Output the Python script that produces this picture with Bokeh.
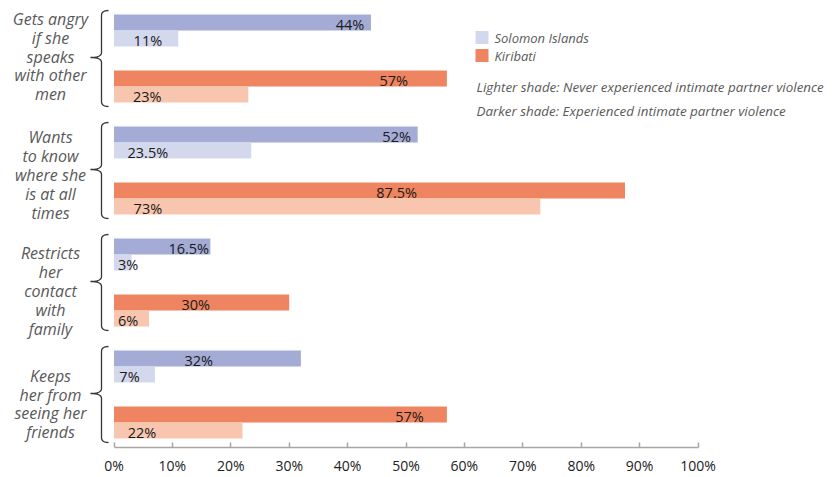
from bokeh.plotting import figure
from bokeh.models import Range1d, FixedTicker
from bokeh.core.properties import value
from bokeh.embed import file_html
from bokeh.resources import INLINE

# ---------------- data ----------------
categories = [
    ["Gets angry", "if she", "speaks", "with other", "men"],
    ["Wants", "to know", "where she", "is at all", "times"],
    ["Restricts", "her", "contact", "with", "family"],
    ["Keeps", "her from", "seeing her", "friends"],
]
solomon_experienced = [44, 52, 16.5, 32]
solomon_never = [11, 23.5, 3, 7]
kiribati_experienced = [57, 87.5, 30, 57]
kiribati_never = [23, 73, 6, 22]
tick_values = [0, 10, 20, 30, 40, 50, 60, 70, 80, 90, 100]
tick_labels = ["0%", "10%", "20%", "30%", "40%", "50%", "60%", "70%", "80%", "90%", "100%"]
legend_names = ["Solomon Islands", "Kiribati"]
notes = ["Lighter shade: Never experienced intimate partner violence",
         "Darker shade: Experienced intimate partner violence"]

# ---------------- layout / style ----------------
PX0, PXU = 113.5, 5.84          # pixel of 0 %, pixels per 1 %
def xd(px):
    return (px - PX0) / PXU

C_SOL_D, C_SOL_L = "#A4ABD5", "#D4D8EC"
C_KIR_D, C_KIR_L = "#EE8460", "#F8C6AE"
FONT = "Open Sans"
GREY = "#595959"

GROUP_TOP, GROUP_STEP, BAR_H = 14, 112, 16
series = [
    (solomon_experienced, C_SOL_D, 8, [40.4, 48.4, 12.8, 14.5]),
    (solomon_never, C_SOL_L, 24, [5.8, 5.8, 2.4, 2.65]),
    (kiribati_experienced, C_KIR_D, 64, [47.9, 48.4, 14.0, 50.6]),
    (kiribati_never, C_KIR_L, 80, [5.7, 5.8, 2.4, 4.8]),
]
label_center_offsets = [42, 48.5, 52.5, 53.5]

p = figure(width=839, height=477, output_backend="svg", toolbar_location=None,
           x_range=Range1d(xd(0), xd(839)), y_range=Range1d(447, 0),
           min_border_left=0, min_border_right=0, min_border_top=0,
           min_border_bottom=30)
p.outline_line_color = None
p.background_fill_color = "white"
p.border_fill_color = "white"
p.xgrid.visible = False
p.ygrid.visible = False
p.yaxis.visible = False

ax = p.xaxis[0]
ax.bounds = (0, 100)
ax.ticker = FixedTicker(ticks=tick_values)
ax.major_label_overrides = {t: l for t, l in zip(tick_values, tick_labels)}
ax.axis_line_color = "#A6A6A6"
ax.axis_line_width = 1.5
ax.major_tick_line_color = "#A6A6A6"
ax.major_tick_line_width = 1.5
ax.major_tick_in = 5
ax.major_tick_out = 0
ax.minor_tick_line_color = None
ax.major_label_standoff = 8
ax.major_label_text_font = FONT
ax.major_label_text_font_size = "14px"
ax.major_label_text_color = "#222222"

# bars and value labels
for vals, col, off, lpos in series:
    ys = [GROUP_TOP + GROUP_STEP * g + off for g in range(len(vals))]
    p.hbar(y=ys, left=0, right=vals, height=BAR_H, fill_color=col, line_color=None)
    p.text(x=lpos, y=[y + 1.5 for y in ys], text=[f"{v:g}%" for v in vals],
           text_align="center", text_baseline="middle",
           text_font=value(FONT), text_font_size="14.5px", text_color="#1a1a1a")

# category labels
LINE_H = 18.8
for g, lines in enumerate(categories):
    c = GROUP_TOP + GROUP_STEP * g + label_center_offsets[g]
    n = len(lines)
    ys = [c + (i - (n - 1) / 2) * LINE_H for i in range(n)]
    p.text(x=[xd(50)] * n, y=ys, text=lines, text_align="center",
           text_baseline="middle", text_font=value(FONT), text_font_size="16px",
           text_font_style="italic", text_color=GREY)

# braces
def qbez(p0, c, p1, n=8):
    pts = []
    for i in range(n + 1):
        t = i / n
        x = (1 - t) ** 2 * p0[0] + 2 * (1 - t) * t * c[0] + t ** 2 * p1[0]
        y = (1 - t) ** 2 * p0[1] + 2 * (1 - t) * t * c[1] + t ** 2 * p1[1]
        pts.append((x, y))
    return pts

bx, by = [], []
for g in range(len(categories)):
    base = GROUP_TOP + GROUP_STEP * g
    t, b, m = base - 4, base + 92, base + 43
    xv, xh, xt = 101, 108, 90
    pts = []
    pts += qbez((xh, t), (xv, t), (xv, t + 5))
    pts += [(xv, m - 5)]
    pts += qbez((xv, m - 5), (xv, m), (xt, m))
    pts += qbez((xt, m), (xv, m), (xv, m + 5))
    pts += [(xv, b - 5)]
    pts += qbez((xv, b - 5), (xv, b), (xh, b))
    bx.append([xd(x) for x, _ in pts])
    by.append([y for _, y in pts])
p.multi_line(xs=bx, ys=by, line_color="#333333", line_width=1.3)

# legend
for i, (name, col) in enumerate(zip(legend_names, [C_SOL_L, C_KIR_D])):
    yc = 37 + 18 * i
    p.quad(left=xd(475), right=xd(488), top=yc - 6.5, bottom=yc + 6.5,
           fill_color=col, line_color=None)
    p.text(x=[xd(494)], y=[yc], text=[name], text_baseline="middle",
           text_font=value(FONT), text_font_size="13px",
           text_font_style="italic", text_color=GREY)
for i, note in enumerate(notes):
    p.text(x=[xd(476)], y=[86 + 24 * i], text=[note], text_baseline="middle",
           text_font=value(FONT), text_font_size="13.4px",
           text_font_style="italic", text_color=GREY)

open("out.html", "w").write(file_html(p, INLINE))
